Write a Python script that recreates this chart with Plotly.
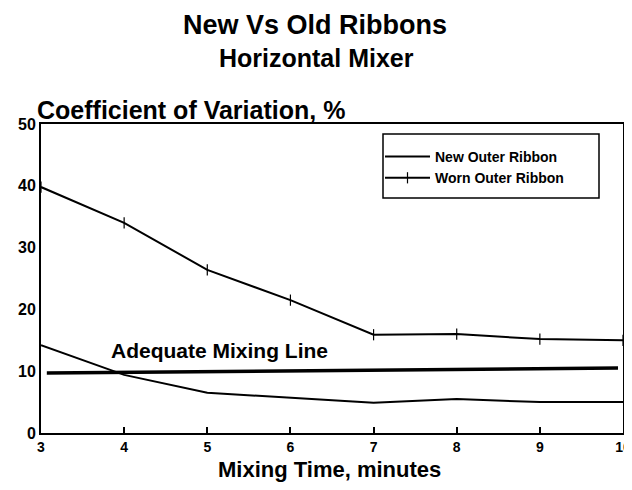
import plotly.graph_objects as go

minutes = [3, 4, 5, 6, 7, 8, 9, 10]
new_outer = [14.2, 9.4, 6.5, 5.7, 4.9, 5.5, 5.0, 5.0]
worn_outer = [39.8, 34.0, 26.4, 21.5, 15.9, 16.0, 15.2, 15.0]
adequate_x = [3.07, 9.94]
adequate_y = [9.7, 10.5]
x_ticks = [3, 4, 5, 6, 7, 8, 9, 10]
y_ticks = [0, 10, 20, 30, 40, 50]

FONT = "Liberation Sans"
# reference-pixel helpers for the page layout (plot area 41..623 x 124..433)
def px(X):
    return (X - 41) / 582
def py(Y):
    return (433 - Y) / 309

fig = go.Figure()
fig.add_trace(go.Scatter(x=minutes, y=new_outer, mode="lines", name="<b>New Outer Ribbon</b>",
                         line=dict(color="black", width=2)))
fig.add_trace(go.Scatter(x=minutes, y=worn_outer, mode="lines+markers", name="<b>Worn Outer Ribbon</b>",
                         line=dict(color="black", width=2),
                         marker=dict(symbol="line-ns", size=8, line=dict(color="black", width=1.2))))
fig.add_trace(go.Scatter(x=adequate_x, y=adequate_y, mode="lines", showlegend=False,
                         line=dict(color="black", width=3.5)))
fig.add_annotation(x=5.15, y=13.3, text="<b>Adequate Mixing Line</b>", showarrow=False,
                   font=dict(family=FONT, size=21, color="black"))

fig.update_layout(
    width=624, height=474,
    margin=dict(l=33, r=9, t=116, b=49, autoexpand=False),
    paper_bgcolor="white", plot_bgcolor="white",
    font=dict(family=FONT, color="black"),
    legend=dict(x=px(380), y=py(141), xanchor="left", yanchor="top",
                bgcolor="rgba(0,0,0,0)", borderwidth=0,
                font=dict(family=FONT, size=14, color="black"),
                itemwidth=45),
    xaxis=dict(range=[3, 10], tickvals=x_ticks, ticktext=[f"<b>{v}</b>" for v in x_ticks],
               showgrid=False, zeroline=False, showline=True, linecolor="black", linewidth=2,
               mirror=True, ticks="inside", ticklen=6, tickwidth=1.5, tickcolor="black",
               tickfont=dict(family=FONT, size=14), automargin=False),
    yaxis=dict(range=[0, 50], tickvals=y_ticks, ticktext=[f"<b>{v}</b>" for v in y_ticks],
               showgrid=False, zeroline=False, showline=True, linecolor="black", linewidth=2,
               mirror=True, ticks="", tickfont=dict(family=FONT, size=16), automargin=False),
)
fig.add_shape(type="rect", xref="paper", yref="paper", x0=px(383), x1=px(599), y0=py(198), y1=py(134),
              line=dict(color="black", width=1.5))
fig.add_annotation(xref="paper", yref="paper", x=px(315), y=py(25), xanchor="center", yanchor="middle",
                   text="<b>New Vs Old Ribbons</b>", showarrow=False,
                   font=dict(family=FONT, size=27, color="black"))
fig.add_annotation(xref="paper", yref="paper", x=px(316), y=py(58), xanchor="center", yanchor="middle",
                   text="<b>Horizontal Mixer</b>", showarrow=False,
                   font=dict(family=FONT, size=25, color="black"))
fig.add_annotation(xref="paper", yref="paper", x=px(35), y=py(110), xanchor="left", yanchor="middle",
                   text="<b>Coefficient of Variation, %</b>", showarrow=False,
                   font=dict(family=FONT, size=25, color="black"))
fig.add_annotation(xref="paper", yref="paper", x=px(329), y=py(469), xanchor="center", yanchor="middle",
                   text="<b>Mixing Time, minutes</b>", showarrow=False,
                   font=dict(family=FONT, size=22, color="black"))
fig.write_html("out.html")
